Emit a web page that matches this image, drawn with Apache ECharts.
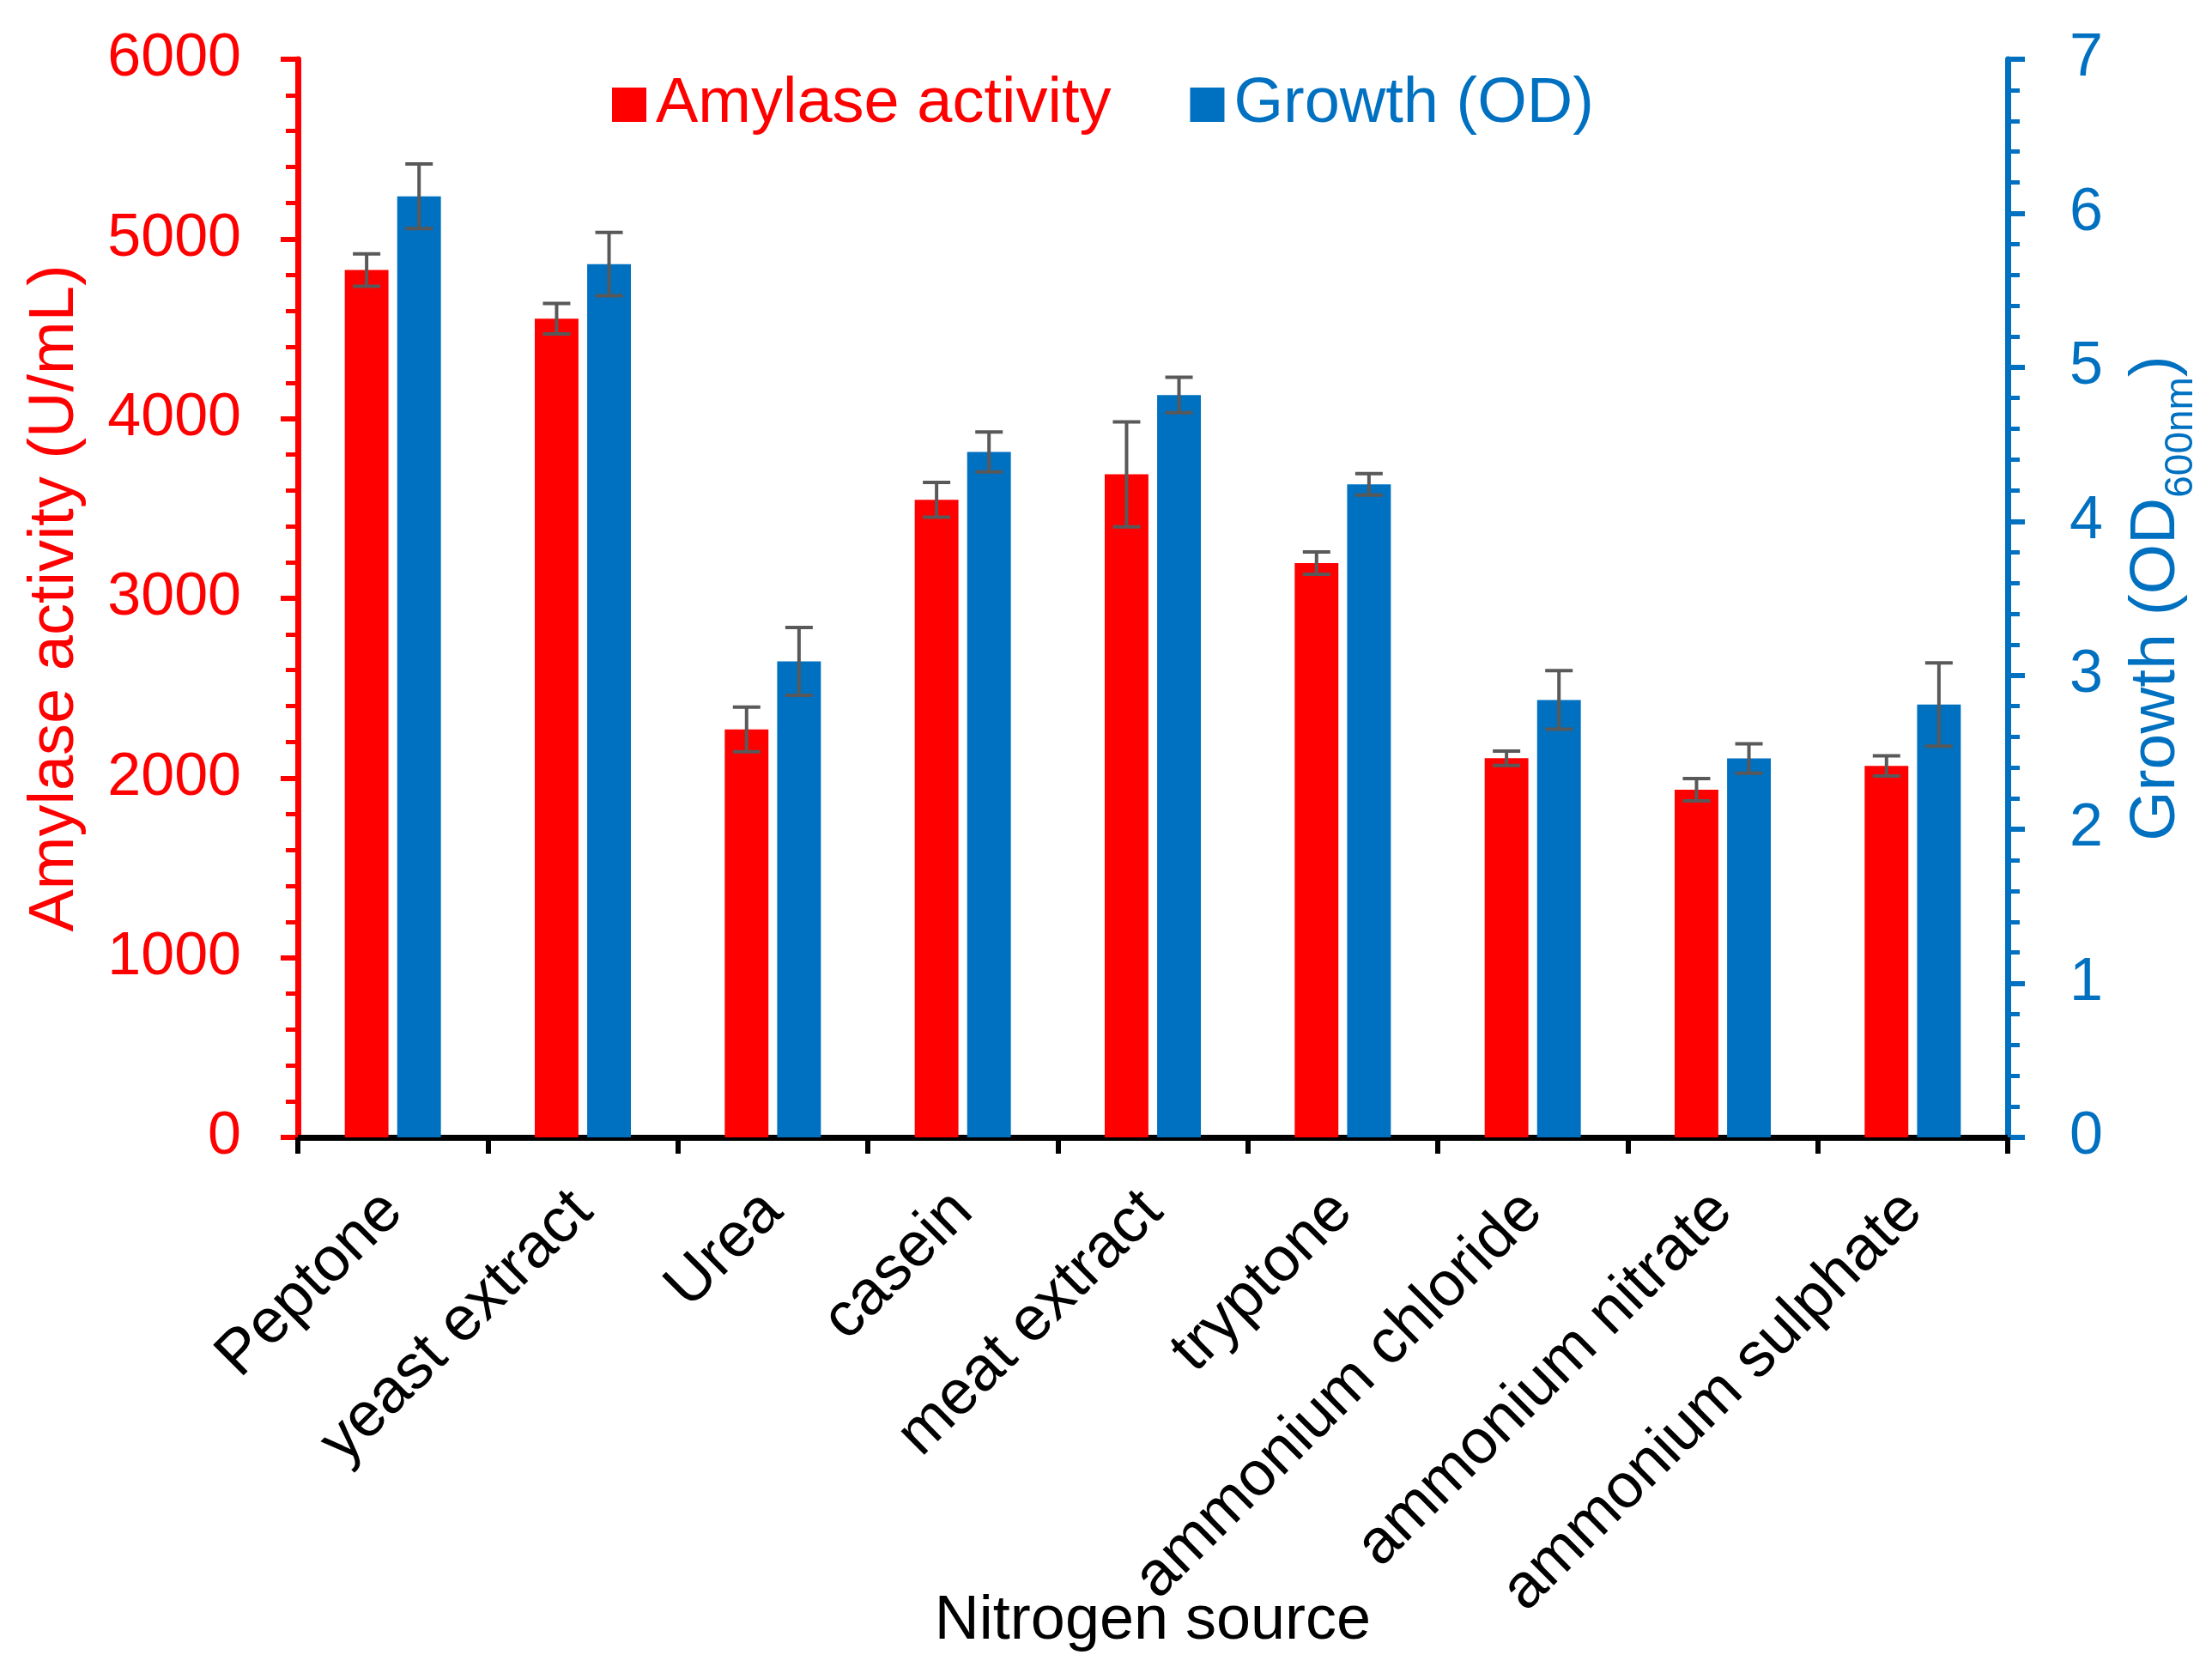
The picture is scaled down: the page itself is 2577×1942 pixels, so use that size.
<!DOCTYPE html>
<html>
<head>
<meta charset="utf-8">
<title>Nitrogen source</title>
<script src="https://cdn.jsdelivr.net/npm/echarts@6/dist/echarts.min.js"></script>
<style>
  html, body { margin: 0; padding: 0; background: #fff; }
  #chart { width: 2577px; height: 1942px; }
</style>
</head>
<body>
<div id="chart"></div>
<script>
// values
var categories = ['Peptone', 'yeast extract', 'Urea', 'casein', 'meat extract',
  'tryptone', 'ammonium chloride', 'ammonium nitrate', 'ammonium sulphate'];
var amylase = [4827, 4556, 2270, 3548, 3690, 3196, 2110, 1935, 2067];
var amylaseSd = [90, 85, 124, 97, 292, 62, 40, 62, 56];
var growth = [6.11, 5.67, 3.09, 4.45, 4.82, 4.24, 2.84, 2.46, 2.81];
var growthSd = [0.21, 0.205, 0.22, 0.13, 0.115, 0.07, 0.19, 0.095, 0.27];

var RED = '#FF0000';
var BLUE = '#0070C0';
var FONT = 'Liberation Sans, Arial, sans-serif';

var BAR_W = 0.23;  // share of category band
var BAR_GAP = 0.2; // share of bar width
var shift = BAR_W * (1 + BAR_GAP) / 2;

function errData(vals, sds) {
  var out = [];
  for (var i = 0; i < vals.length; i++) {
    out.push([i, vals[i] - sds[i], vals[i] + sds[i]]);
  }
  return out;
}

function errRenderer(side) {
  return function (params, api) {
    var band = api.size([1, 0])[0];
    var lo = api.coord([api.value(0), api.value(1)]);
    var hi = api.coord([api.value(0), api.value(2)]);
    var x = lo[0] + side * shift * band;
    var cap = 16;
    var style = { stroke: '#595959', lineWidth: 4 };
    return {
      type: 'group',
      children: [
        { type: 'line', shape: { x1: x, y1: hi[1], x2: x, y2: lo[1] }, style: style },
        { type: 'line', shape: { x1: x - cap, y1: hi[1], x2: x + cap, y2: hi[1] }, style: style },
        { type: 'line', shape: { x1: x - cap, y1: lo[1], x2: x + cap, y2: lo[1] }, style: style }
      ]
    };
  };
}

function valueAxis(color, pos, max, interval, name) {
  return {
    type: 'value',
    position: pos,
    min: 0,
    max: max,
    interval: interval,
    name: name,
    nameLocation: 'middle',
    nameRotate: 90,
    nameTextStyle: { color: color, fontSize: 72, fontFamily: FONT },
    axisLine: { show: true, lineStyle: { color: color, width: 7 } },
    axisTick: { show: true, inside: false, length: 20, lineStyle: { color: color, width: 6 } },
    minorTick: { show: true, splitNumber: 5, length: 14, lineStyle: { color: color, width: 5 } },
    splitLine: { show: false },
    axisLabel: {
      color: color, fontSize: 70, fontFamily: FONT, margin: 66,
      formatter: function (v) { return String(v); }
    }
  };
}

var chart = echarts.init(document.getElementById('chart'), null, { renderer: 'canvas' });

var leftAxis = valueAxis(RED, 'left', 6000, 1000, 'Amylase activity (U/mL)');
leftAxis.nameGap = 245;
leftAxis.nameTextStyle.fontSize = 74;
var rightAxis = valueAxis(BLUE, 'right', 7, 1, 'Growth (OD{sub|600nm})');
rightAxis.nameGap = 136;
rightAxis.nameTextStyle.fontSize = 75;
rightAxis.axisLabel.margin = 72;
rightAxis.nameTextStyle.rich = {
  sub: { fontSize: 46, fontFamily: FONT, color: BLUE, verticalAlign: 'bottom', padding: [0, 0, -14, 0] }
};

var option = {
  backgroundColor: '#ffffff',
  animation: false,
  grid: { left: 347, right: 238, top: 69, bottom: 617, containLabel: false, outerBoundsMode: 'none' },
  legend: {
    left: 708,
    top: 80,
    itemWidth: 40,
    itemHeight: 40,
    itemGap: 92,
    icon: 'rect',
    textStyle: { fontSize: 74, fontFamily: FONT, padding: [0, 0, 0, 6] },
    data: [
      { name: 'Amylase activity', textStyle: { color: RED } },
      { name: 'Growth (OD)', textStyle: { color: BLUE } }
    ]
  },
  xAxis: {
    type: 'category',
    data: categories,
    boundaryGap: true,
    name: 'Nitrogen source',
    nameLocation: 'middle',
    nameGap: 528,
    nameMoveOverlap: false,
    nameTextStyle: { color: '#000', fontSize: 72, fontFamily: FONT },
    axisLine: { lineStyle: { color: '#000', width: 7 } },
    axisTick: { show: true, length: 19, lineStyle: { color: '#000', width: 6 } },
    axisLabel: { color: '#000', fontSize: 73, fontFamily: FONT, rotate: 45, margin: 75, interval: 0 }
  },
  yAxis: [leftAxis, rightAxis],
  series: [
    {
      name: 'Amylase activity',
      type: 'bar',
      yAxisIndex: 0,
      data: amylase,
      barWidth: (BAR_W * 100) + '%',
      barGap: (BAR_GAP * 100) + '%',
      itemStyle: { color: RED }
    },
    {
      name: 'Growth (OD)',
      type: 'bar',
      yAxisIndex: 1,
      data: growth,
      barWidth: (BAR_W * 100) + '%',
      barGap: (BAR_GAP * 100) + '%',
      itemStyle: { color: BLUE }
    },
    {
      type: 'custom',
      yAxisIndex: 0,
      renderItem: errRenderer(-1),
      data: errData(amylase, amylaseSd),
      encode: { x: 0, y: [1, 2] },
      z: 10,
      silent: true
    },
    {
      type: 'custom',
      yAxisIndex: 1,
      renderItem: errRenderer(1),
      data: errData(growth, growthSd),
      encode: { x: 0, y: [1, 2] },
      z: 10,
      silent: true
    }
  ]
};

chart.setOption(option);
</script>
</body>
</html>
